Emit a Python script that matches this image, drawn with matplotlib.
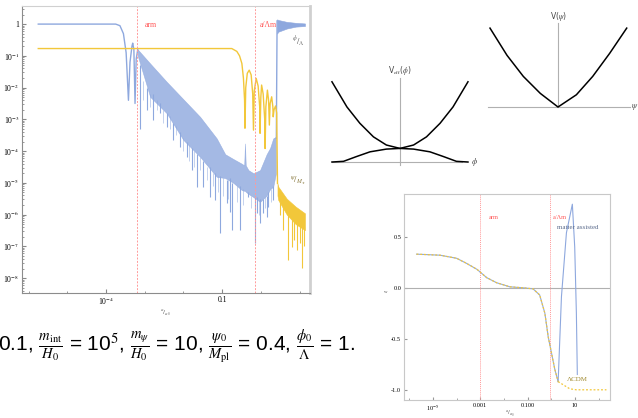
import numpy as np
import matplotlib
matplotlib.use("Agg")
from matplotlib import pyplot as plt
from matplotlib.ticker import FixedLocator, NullFormatter, LogLocator

plt.rcParams['font.family'] = ['Liberation Serif', 'DejaVu Serif']
plt.rcParams['mathtext.fontset'] = 'stix'

W, H = 638, 418

# ---------------- data (log10 values) ----------------
# phi / Lambda  (blue), smooth start and first oscillations
phi_loga = [-5.75, -3.75, -3.64, -3.55, -3.48, -3.42, -3.38, -3.33, -3.31,
            -3.28, -3.25, -3.22, -3.18]
phi_logy = [0.0, 0.0, -0.05, -0.3, -0.9, -2.4, -1.2, -0.7, -0.6,
            -0.8, -2.5, -1.1, -0.8]
# dense oscillating band of phi / Lambda
band_loga = [-3.18, -2.86, -2.43, -2.00, -1.57, -1.14, -0.92, -0.71, -0.49,
             -0.43, -0.41, -0.39, -0.32, -0.19, -0.02, 0.15, 0.24, 0.32, 0.39]
band_hi = [-0.8, -1.24, -1.82, -2.37, -2.92, -3.60, -4.1, -4.25, -4.4,
           -4.45, -3.76, -4.45, -4.6, -4.7, -4.6, -4.1, -3.9, -3.6, -3.55]
band_lo = [-1.0, -2.29, -2.81, -3.65, -4.18, -4.81, -4.85, -5.0, -5.23,
           -5.25, -5.25, -5.28, -5.35, -5.45, -5.6, -5.4, -5.2, -5.12, -4.7]
spike_loga = [-3.12, -2.95, -2.78, -2.60, -2.43, -2.26, -2.09, -1.91, -1.79,
              -1.66, -1.49, -1.31, -1.18, -1.05, -0.88, -0.80, -0.75, -0.54,
              -0.32, -0.15, -0.11, -0.02, 0.06, 0.15, 0.19, 0.32]
spike_bot = [-3.29, -2.71, -3.02, -2.81, -3.23, -3.65, -3.86, -4.18, -4.60,
             -5.12, -5.12, -5.44, -5.54, -6.59, -5.65, -5.91, -6.49, -6.49,
             -5.44, -6.91, -5.96, -6.28, -5.96, -6.07, -5.75, -5.54]
spike_top = [-1.3, -2.0, -2.2, -2.5, -2.8, -3.1, -3.4, -3.7, -3.9,
             -4.1, -4.3, -4.5, -4.7, -4.8, -4.9, -4.85, -5.0, -5.1,
             -5.3, -5.4, -5.45, -5.5, -5.5, -5.4, -5.3, -5.1]
# shorter fringe spikes in between
fringe_loga = [-3.04, -2.87, -2.69, -2.52, -2.35, -2.18, -2.0, -1.85, -1.72,
               -1.58, -1.40, -1.24, -1.11, -0.97, -0.84, -0.62, -0.45, -0.25,
               -0.06, 0.10, 0.26]
fringe_bot = [-2.4, -2.6, -2.7, -3.1, -3.3, -3.5, -4.0, -4.3, -4.5,
              -4.6, -4.9, -5.1, -5.3, -5.4, -5.5, -5.6, -5.7, -5.8,
              -6.0, -5.8, -5.6]
fringe_top = [-1.8, -2.2, -2.4, -2.7, -2.9, -3.2, -3.6, -3.8, -4.0,
              -4.2, -4.5, -4.7, -4.8, -4.85, -4.9, -5.1, -5.2, -5.4,
              -5.55, -5.45, -5.2]
jump_loga = [0.40, 0.42]
jump_logy = [-3.6, 0.1]
top_loga = [0.42, 0.45, 0.67, 0.90, 1.14]
top_hi = [0.15, 0.13, 0.07, 0.04, 0.02]
top_lo = [-0.3, -0.24, -0.14, -0.08, -0.06]

# psi / M_pl  (yellow)
psi_loga = [-5.75, -0.75, -0.62, -0.55, -0.49, -0.45, -0.42, -0.41, -0.39,
            -0.35, -0.30, -0.25, -0.21, -0.19, -0.17, -0.12, -0.07, -0.03,
            -0.02, 0.0, 0.02, 0.06, 0.10, 0.11, 0.13, 0.17, 0.20, 0.22,
            0.24, 0.28, 0.31, 0.32, 0.34, 0.38, 0.41, 0.43]
psi_logy = [-0.77, -0.77, -0.86, -1.0, -1.24, -1.7, -2.4, -3.28, -2.0,
            -1.55, -1.45, -1.6, -2.2, -3.34, -2.1, -1.71, -1.95, -2.6,
            -3.44, -2.3, -1.92, -2.2, -3.0, -3.92, -2.6, -2.08, -2.4, -3.18,
            -2.5, -2.29, -2.6, -2.92, -2.7, -2.58, -2.8, -5.02]
ytail_loga = [0.43, 0.45, 0.67, 0.90, 1.14]
ytail_hi = [-5.02, -5.12, -5.5, -5.75, -5.96]
ytail_lo = [-5.4, -5.54, -6.0, -6.3, -6.49]
yspike_loga = [0.50, 0.58, 0.71, 0.80, 0.86, 0.93, 1.00, 1.06, 1.12]
yspike_bot = [-6.0, -6.49, -7.43, -7.01, -6.8, -7.12, -6.9, -7.68, -7.0]
yspike_top = [-5.6, -5.7, -5.9, -6.0, -6.1, -6.2, -6.3, -6.4, -6.4]

# equation of state w(a)
w_loga = [-5.69, -4.70, -4.0, -3.58, -3.13, -2.73, -2.31, -1.75, -1.19,
          -0.77, -0.49, -0.27, -0.13, 0.01, 0.15, 0.29]
w_val = [0.33, 0.32, 0.29, 0.24, 0.18, 0.10, 0.05, 0.01, 0.0,
         -0.01, -0.07, -0.25, -0.48, -0.64, -0.80, -0.92]
lcdm_loga = [0.29, 0.50, 0.78, 1.06, 2.33]
lcdm_w = [-0.92, -0.95, -0.99, -1.0, -1.0]
ma_loga = [0.29, 0.43, 0.64, 0.89, 0.99, 1.06, 1.10]
ma_w = [-0.92, -0.085, 0.54, 0.82, 0.40, -0.25, -0.85]

# schematic potentials
veff_x = [-1.0, -0.78, -0.59, -0.39, -0.20, 0.0, 0.20, 0.39, 0.59, 0.78, 1.0]
veff_hi = [1.18, 0.81, 0.57, 0.37, 0.25, 0.20, 0.25, 0.37, 0.57, 0.81, 1.18]
veff_lo_x = [-1.0, -0.83, -0.64, -0.44, -0.20, 0.0, 0.20, 0.44, 0.64, 0.83, 1.0]
veff_lo = [0.0, 0.01, 0.08, 0.15, 0.19, 0.20, 0.19, 0.15, 0.08, 0.01, 0.0]
vpsi_x = [-1.0, -0.75, -0.51, -0.26, 0.0, 0.27, 0.51, 0.76, 1.01]
vpsi_y = [1.16, 0.76, 0.45, 0.20, 0.0, 0.18, 0.45, 0.79, 1.16]

BLUE = '#8ea8de'
YELLOW = '#f2c73a'
RED = '#ff5555'


def box(left, top, right, bottom):
    return [left / W, 1 - bottom / H, (right - left) / W, (bottom - top) / H]


def p10(v):
    return 10.0 ** np.asarray(v)


fig = plt.figure(figsize=(W / 100, H / 100), dpi=100)

# ---------------- left: field amplitudes ----------------
ax = fig.add_axes(box(22, 6, 310, 293))
ax.set_xscale('log')
ax.set_yscale('log')
ax.set_xlim(10 ** -6.17, 10 ** 1.27)
ax.set_ylim(10 ** -8.47, 10 ** 0.57)

ax.fill_between(p10(band_loga), p10(band_lo), p10(band_hi), color=BLUE,
                lw=0.4, alpha=0.8)
ax.vlines(p10(fringe_loga), p10(fringe_bot), p10(fringe_top), color=BLUE,
          lw=0.6, alpha=0.6)
ax.vlines(p10(spike_loga), p10(spike_bot), p10(spike_top), color=BLUE, lw=0.8)
ax.plot(p10(phi_loga), p10(phi_logy), color=BLUE, lw=1.0)
ax.plot(p10(jump_loga), p10(jump_logy), color=BLUE, lw=1.0)
ax.fill_between(p10(top_loga), p10(top_lo), p10(top_hi), color=BLUE, lw=0.4)

ax.plot(p10(psi_loga), p10(psi_logy), color=YELLOW, lw=1.0)
ax.fill_between(p10(ytail_loga), p10(ytail_lo), p10(ytail_hi), color=YELLOW,
                lw=0.4)
ax.vlines(p10(yspike_loga), p10(yspike_bot), p10(yspike_top), color=YELLOW,
          lw=0.8)

for xv in (10 ** -3.2, 10 ** -0.15):
    ax.axvline(xv, color='#ff9a9a', lw=0.7, ls=(0, (2, 1.5)))
ax.text(10 ** -3.0, 10 ** -0.03, 'arm', color=RED, fontsize=5.5, va='center')
ax.text(10 ** -0.03, 10 ** -0.03, 'a/Λm', color=RED, fontsize=5.5, va='center')
ax.text(10 ** 0.98, 10 ** -0.56, r'$^{\phi}/_{\Lambda}$', color='#666666',
        fontsize=6, ha='center', va='center')
ax.text(10 ** 0.95, 10 ** -4.95, r'$^{\psi}/_{M_{\star}}$', color='#8a7a40',
        fontsize=6, ha='center', va='center')

ax.set_yticks([10.0 ** k for k in range(0, -9, -1)])
ax.set_yticklabels(['1'] + ['10$^{%d}$' % k for k in range(-1, -9, -1)])
ax.yaxis.set_minor_locator(LogLocator(base=10, subs=np.arange(2, 10), numticks=20))
ax.yaxis.set_minor_formatter(NullFormatter())
ax.set_xticks([1e-4, 0.1])
ax.set_xticklabels(['10$^{-4}$', '0.1'])
ax.xaxis.set_minor_locator(FixedLocator([1e-6, 1e-5, 1e-3, 1e-2, 1.0, 10.0]))
ax.xaxis.set_minor_formatter(NullFormatter())
ax.tick_params(which='both', direction='in', color='#888888', labelsize=5.5,
               pad=2, top=False, right=False)
ax.tick_params(which='major', length=3)
ax.tick_params(which='minor', length=1.5)
for s in ('left', 'bottom'):
    ax.spines[s].set_color('#8c8c8c')
    ax.spines[s].set_linewidth(0.8)
ax.spines['top'].set_color('#d0d0d0')
ax.spines['top'].set_linewidth(0.8)
ax.spines['right'].set_color('#d0d0d0')
ax.spines['right'].set_linewidth(2.0)
fig.text(165 / W, 1 - 313 / H, r'$^{a}/_{a_0}$', fontsize=5, ha='center',
         va='center', color='#555555')

# ---------------- V_eff(phi) schematic ----------------
ax2 = fig.add_axes(box(320, 55, 490, 175))
ax2.set_xlim(-1.176, 1.324)
ax2.set_ylim(-0.191, 1.574)
ax2.set_axis_off()
ax2.axhline(0, xmin=(-1.0 + 1.176) / 2.5, xmax=(0.91 + 1.176) / 2.5,
            color='#b0b0b0', lw=0.8)
ax2.axvline(0, ymin=(-0.05 + 0.191) / 1.765, ymax=(1.24 + 0.191) / 1.765,
            color='#b0b0b0', lw=0.8)
ax2.plot(veff_x, veff_hi, color='black', lw=1.1)
ax2.plot(veff_lo_x, veff_lo, color='black', lw=1.1)
ax2.text(0, 1.34, r'V$_{\rm eff}$($\phi$)', fontsize=5.5, ha='center',
         va='center', color='#444444', family=['DejaVu Sans'])
ax2.text(1.1, 0.0, r'$\phi$', fontsize=6, ha='center', va='center',
         color='#444444')

# ---------------- V(psi) schematic ----------------
ax3 = fig.add_axes(box(480, 5, 638, 120))
ax3.set_xlim(-1.147, 1.176)
ax3.set_ylim(-0.191, 1.5)
ax3.set_axis_off()
ax3.axhline(0, xmin=(-1.03 + 1.147) / 2.323, xmax=(1.06 + 1.147) / 2.323,
            color='#b0b0b0', lw=0.8)
ax3.axvline(0, ymin=0.191 / 1.691, ymax=(1.24 + 0.191) / 1.691,
            color='#b0b0b0', lw=0.8)
ax3.plot(vpsi_x, vpsi_y, color='black', lw=1.1)
ax3.text(0, 1.33, r'V($\psi$)', fontsize=5.5, ha='center', va='center',
         color='#444444', family=['DejaVu Sans'])
ax3.text(1.13, 0.0, r'$\psi$', fontsize=6, ha='center', va='center',
         color='#444444')

# ---------------- w(a) ----------------
ax4 = fig.add_axes(box(404, 194, 610, 400))
ax4.set_xscale('log')
ax4.set_xlim(10 ** -6.22, 10 ** 2.48)
ax4.set_ylim(-1.10, 0.92)
ax4.axhline(0, color='#b0b0b0', lw=0.8)
for xv in (1e-3, 10 ** -0.05):
    ax4.axvline(xv, color='#ff9a9a', lw=0.7, ls=(0, (1, 1)))
ax4.plot(p10(ma_loga), ma_w, color=BLUE, lw=0.8)
ax4.plot(p10(w_loga), w_val, color=BLUE, lw=0.8)
ax4.plot(p10(w_loga), w_val, color=YELLOW, lw=0.9, ls=(0, (1.5, 1.5)))
ax4.plot(p10(lcdm_loga), lcdm_w, color=YELLOW, lw=0.9, ls=(0, (1.5, 1.5)))
ax4.text(10 ** -2.64, 0.69, 'arm', color=RED, fontsize=4.5, va='center')
ax4.text(10 ** 0.05, 0.69, 'a/Λm', color=RED, fontsize=4.5, va='center')
ax4.text(10 ** 1.1, 0.59, 'matter assisted', color='#5b6b8c', fontsize=5,
         ha='center', va='center')
ax4.text(10 ** 1.1, -0.90, 'ΛCDM', color='#a08a30', fontsize=5,
         ha='center', va='center')
ax4.set_yticks([0.5, 0.0, -0.5, -1.0])
ax4.set_yticklabels(['0.5', '0.0', '-0.5', '-1.0'])
ax4.set_xticks([1e-5, 1e-3, 0.1, 10])
ax4.set_xticklabels(['10$^{-5}$', '0.001', '0.100', '10'])
ax4.xaxis.set_minor_locator(FixedLocator([1e-6, 1e-4, 1e-2, 1.0, 100.0]))
ax4.xaxis.set_minor_formatter(NullFormatter())
ax4.tick_params(which='both', direction='in', color='#999999', labelsize=4.5,
                pad=2, top=False, right=False)
ax4.tick_params(which='major', length=2.5)
ax4.tick_params(which='minor', length=1.5)
for s in ax4.spines.values():
    s.set_color('#c8c8c8')
    s.set_linewidth(0.8)
fig.text(510 / W, 1 - 414 / H, r'$^{a}/_{a_0}$', fontsize=4.5, ha='center',
         va='center', color='#555555')
fig.text(386 / W, 1 - 292 / H, 'w', fontsize=3.5, ha='center', va='center',
         color='#555555')

# ---------------- caption fragment ----------------
fig.text(-2 / W, 1 - 347 / H,
         r'0.1, $\frac{m_{\rm int}}{H_0}$ = 10$^5$, $\frac{m_\psi}{H_0}$ = 10, '
         r'$\frac{\psi_0}{M_{\rm pl}}$ = 0.4, $\frac{\phi_0}{\Lambda}$ = 1.',
         fontsize=15, ha='left', va='center', family=['Liberation Sans'])

fig.savefig('out.png', dpi=100)
